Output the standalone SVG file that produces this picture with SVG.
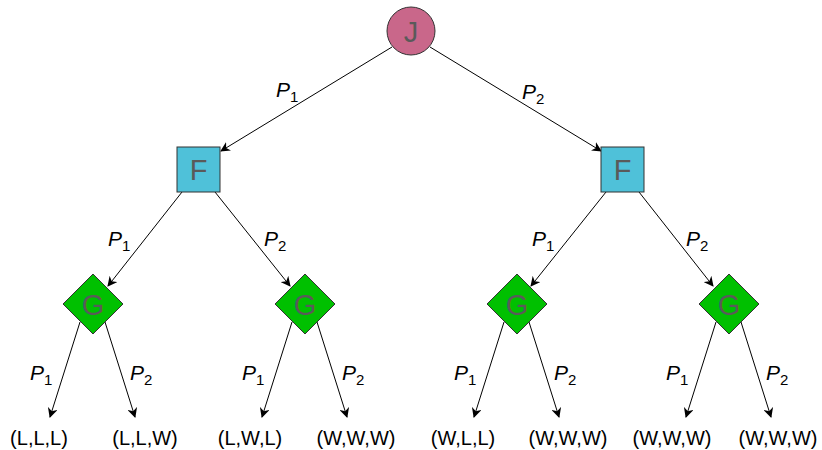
<svg xmlns="http://www.w3.org/2000/svg" width="822" height="450" viewBox="0 0 822 450">
  <defs>
    <marker id="arrow" viewBox="0 0 10 10" refX="9" refY="5" markerWidth="10" markerHeight="10" markerUnits="userSpaceOnUse" orient="auto">
      <path d="M0,0 L10,5 L0,10 L3,5 Z" fill="#000"/>
    </marker>
  </defs>
  <style>
    .edge { stroke: #000; stroke-width: 1; fill: none; marker-end: url(#arrow); }
    .node { stroke: #333; stroke-width: 1; }
    .nlabel { font-family: "Liberation Sans", Arial, sans-serif; font-size: 29px; fill: #5a5a5a; text-anchor: middle; }
    .elabel { font-family: "Liberation Sans", Arial, sans-serif; font-size: 21px; fill: #000; }
    .elabel .p { font-style: italic; }
    .elabel .s { font-size: 15px; }
    .leaf { font-family: "Liberation Sans", Arial, sans-serif; font-size: 20px; fill: #000; text-anchor: middle; }
  </style>
  <rect width="822" height="450" fill="#fff"/>

  <!-- connectors -->
  <g id="edges">
    <line class="edge" x1="392" y1="47" x2="221" y2="151"/>
    <line class="edge" x1="430" y1="47" x2="601" y2="151"/>
    <line class="edge" x1="182" y1="192" x2="108" y2="286"/>
    <line class="edge" x1="215" y1="192" x2="290" y2="286"/>
    <line class="edge" x1="606" y1="192" x2="531" y2="286"/>
    <line class="edge" x1="639" y1="192" x2="713" y2="286"/>
    <line class="edge" x1="80" y1="322" x2="50" y2="417"/>
    <line class="edge" x1="105" y1="322" x2="135" y2="417"/>
    <line class="edge" x1="292" y1="322" x2="262" y2="417"/>
    <line class="edge" x1="317" y1="322" x2="347" y2="417"/>
    <line class="edge" x1="504" y1="322" x2="474" y2="417"/>
    <line class="edge" x1="529" y1="322" x2="559" y2="417"/>
    <line class="edge" x1="716" y1="322" x2="686" y2="417"/>
    <line class="edge" x1="741" y1="322" x2="771" y2="417"/>
  </g>

  <!-- edge labels -->
  <g id="edge-labels" class="elabel">
    <text x="276" y="97"><tspan class="p">P</tspan><tspan class="s" dy="5">1</tspan></text>
    <text x="522" y="99"><tspan class="p">P</tspan><tspan class="s" dy="5">2</tspan></text>
    <text x="108" y="246"><tspan class="p">P</tspan><tspan class="s" dy="5">1</tspan></text>
    <text x="264" y="246"><tspan class="p">P</tspan><tspan class="s" dy="5">2</tspan></text>
    <text x="532" y="246"><tspan class="p">P</tspan><tspan class="s" dy="5">1</tspan></text>
    <text x="686" y="246"><tspan class="p">P</tspan><tspan class="s" dy="5">2</tspan></text>
    <text x="30" y="380"><tspan class="p">P</tspan><tspan class="s" dy="5">1</tspan></text>
    <text x="130" y="380"><tspan class="p">P</tspan><tspan class="s" dy="5">2</tspan></text>
    <text x="242" y="380"><tspan class="p">P</tspan><tspan class="s" dy="5">1</tspan></text>
    <text x="342" y="380"><tspan class="p">P</tspan><tspan class="s" dy="5">2</tspan></text>
    <text x="454" y="380"><tspan class="p">P</tspan><tspan class="s" dy="5">1</tspan></text>
    <text x="554" y="380"><tspan class="p">P</tspan><tspan class="s" dy="5">2</tspan></text>
    <text x="666" y="380"><tspan class="p">P</tspan><tspan class="s" dy="5">1</tspan></text>
    <text x="766" y="380"><tspan class="p">P</tspan><tspan class="s" dy="5">2</tspan></text>
  </g>

  <!-- nodes -->
  <g id="node-J">
    <circle class="node" cx="411" cy="31" r="24" fill="#c9678a"/>
    <text class="nlabel" x="411" y="42">J</text>
  </g>
  <g id="node-F-left">
    <rect class="node" x="177" y="147" width="43" height="45" fill="#4fc1d9"/>
    <text class="nlabel" x="198.5" y="180">F</text>
  </g>
  <g id="node-F-right">
    <rect class="node" x="601" y="147" width="43" height="45" fill="#4fc1d9"/>
    <text class="nlabel" x="622.5" y="180">F</text>
  </g>
  <g id="node-G1">
    <polygon class="node" points="93,274 123,304 93,334 63,304" fill="#00c000"/>
    <text class="nlabel" x="93" y="315">G</text>
  </g>
  <g id="node-G2">
    <polygon class="node" points="305,274 335,304 305,334 275,304" fill="#00c000"/>
    <text class="nlabel" x="305" y="315">G</text>
  </g>
  <g id="node-G3">
    <polygon class="node" points="517,274 547,304 517,334 487,304" fill="#00c000"/>
    <text class="nlabel" x="517" y="315">G</text>
  </g>
  <g id="node-G4">
    <polygon class="node" points="729,274 759,304 729,334 699,304" fill="#00c000"/>
    <text class="nlabel" x="729" y="315">G</text>
  </g>

  <!-- outcomes -->
  <g id="leaves" class="leaf">
    <text x="39" y="445">(L,L,L)</text>
    <text x="145" y="445">(L,L,W)</text>
    <text x="250" y="445">(L,W,L)</text>
    <text x="356" y="445">(W,W,W)</text>
    <text x="463" y="445">(W,L,L)</text>
    <text x="568" y="445">(W,W,W)</text>
    <text x="672" y="445">(W,W,W)</text>
    <text x="778" y="445">(W,W,W)</text>
  </g>
</svg>
